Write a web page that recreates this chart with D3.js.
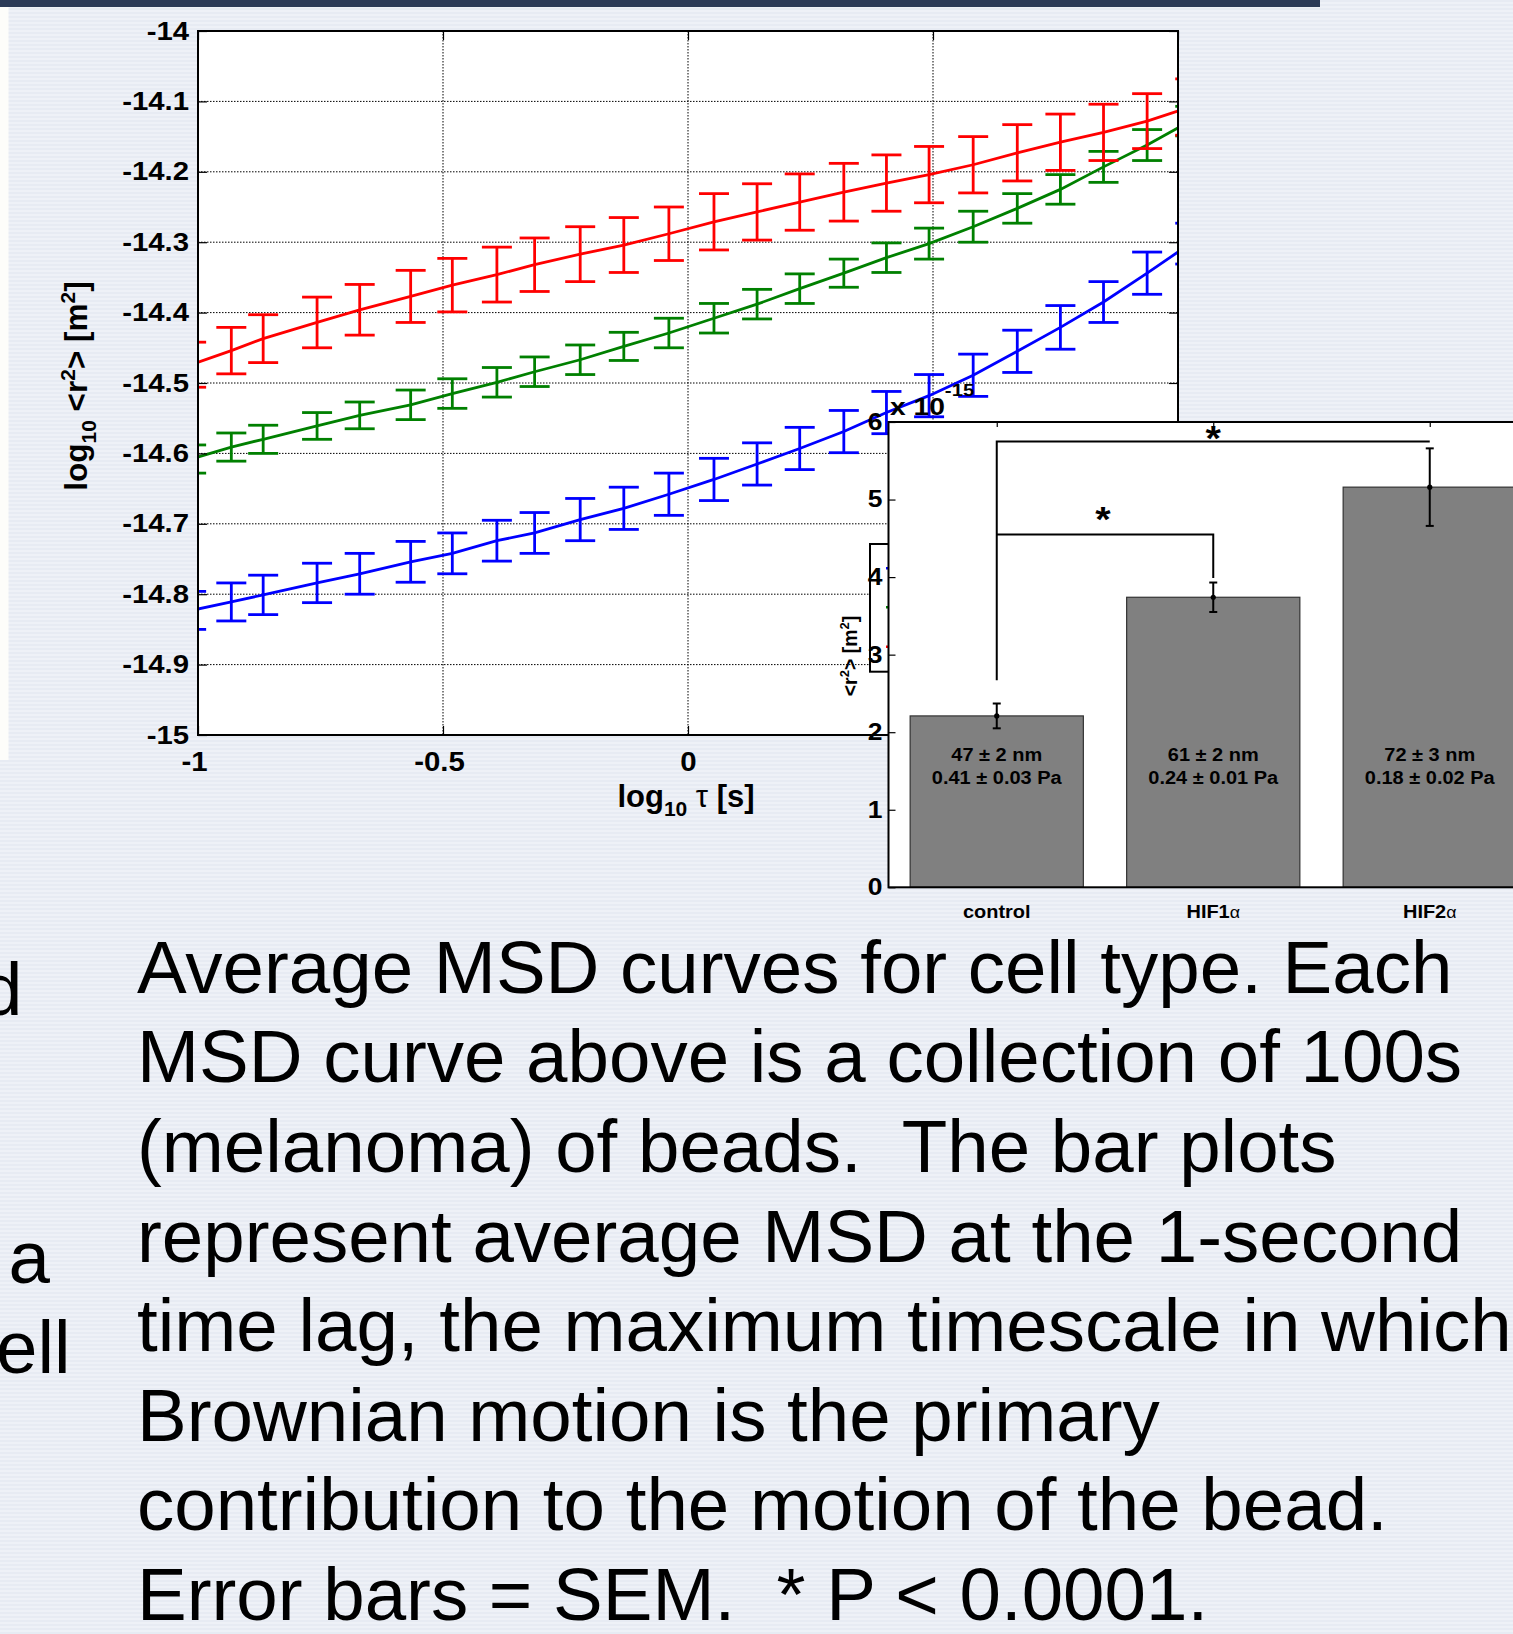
<!DOCTYPE html>
<html>
<head>
<meta charset="utf-8">
<script src="https://cdn.jsdelivr.net/npm/d3@7"></script>
<style>
body{margin:0;background:#eaeef5;}
svg{display:block;}
text{font-family:"Liberation Sans",Arial,Helvetica,sans-serif;fill:#000;}
</style>
</head>
<body>
<script>
// log10 of the time lag for every MSD point (shared by all three curves)
var tauLog = [-1.014,-0.932,-0.867,-0.757,-0.670,-0.566,-0.481,-0.390,-0.313,-0.220,-0.131,-0.039,
              0.053,0.141,0.228,0.318,0.405,0.492,0.582,0.672,0.760,0.848,0.937,1.025];

// log10 <r^2> and SEM for each curve
var redMean = [-14.474,-14.454,-14.437,-14.414,-14.396,-14.377,-14.361,-14.346,-14.332,-14.317,-14.304,-14.288,
               -14.271,-14.257,-14.243,-14.229,-14.216,-14.204,-14.190,-14.173,-14.158,-14.144,-14.128,-14.108];
var redErr = [0.032,0.033,0.034,0.036,0.036,0.037,0.038,0.039,0.038,0.039,0.039,0.038,
              0.040,0.040,0.040,0.041,0.040,0.040,0.040,0.040,0.040,0.040,0.039,0.040];

var greenMean = [-14.608,-14.591,-14.580,-14.561,-14.546,-14.531,-14.515,-14.499,-14.484,-14.467,-14.448,-14.429,
                 -14.408,-14.388,-14.366,-14.344,-14.322,-14.302,-14.278,-14.252,-14.225,-14.193,-14.162,-14.128];
var greenErr = [0.020,0.020,0.020,0.019,0.019,0.021,0.021,0.021,0.021,0.021,0.020,0.021,
                0.021,0.021,0.021,0.020,0.021,0.022,0.022,0.021,0.021,0.022,0.022,0.021];

var blueMean = [-14.823,-14.811,-14.801,-14.784,-14.771,-14.754,-14.742,-14.724,-14.713,-14.694,-14.678,-14.658,
                -14.637,-14.615,-14.593,-14.569,-14.542,-14.518,-14.489,-14.455,-14.421,-14.385,-14.344,-14.302];
var blueErr = [0.027,0.027,0.028,0.028,0.029,0.029,0.029,0.029,0.029,0.030,0.030,0.030,
               0.030,0.030,0.030,0.030,0.030,0.030,0.030,0.030,0.031,0.029,0.030,0.029];

var xTicks = [-1,-0.5,0,0.5,1];
var yTicks = [-15,-14.9,-14.8,-14.7,-14.6,-14.5,-14.4,-14.3,-14.2,-14.1,-14];

// inset: MSD at 1 s (x 10^-15 m^2)
var barCategories = ["control","HIF1","HIF2"];
var barValues = [2.21,3.74,5.16];
var barErr = [0.16,0.19,0.50];
var barSize = ["47 \u00b1 2 nm","61 \u00b1 2 nm","72 \u00b1 3 nm"];
var barModulus = ["0.41 \u00b1 0.03 Pa","0.24 \u00b1 0.01 Pa","0.18 \u00b1 0.02 Pa"];
var barTicks = [0,1,2,3,4,5,6];
// significance brackets: bars joined, bracket level, end of each drop, star position
var brackets = [
  {from:0, to:2, level:5.75, dropFrom:2.67, dropTo:5.75, starX:2.0, starY:5.86},
  {from:0, to:1, level:4.55, dropFrom:4.55, dropTo:3.99, starX:1.49, starY:4.81}
];

var caption = [
  "Average MSD curves for cell type. Each",
  "MSD curve above is a collection of 100s",
  "(melanoma) of beads.  The bar plots",
  "represent average MSD at the 1-second",
  "time lag, the maximum timescale in which",
  "Brownian motion is the primary",
  "contribution to the motion of the bead.",
  "Error bars = SEM.  * P < 0.0001."
];

var W = 1513, H = 1634;
var svg = d3.select("body").append("svg").attr("width", W).attr("height", H);
var defs = svg.append("defs");

// slide background with thin horizontal stripes
var pat = defs.append("pattern").attr("id","stripes").attr("patternUnits","userSpaceOnUse")
    .attr("width", 8).attr("height", 4);
pat.append("rect").attr("width", 8).attr("height", 4).attr("fill", "#e7ebf3");
pat.append("rect").attr("y", 2).attr("width", 8).attr("height", 2).attr("fill", "#eef1f7");
svg.append("rect").attr("width", W).attr("height", H).attr("fill", "url(#stripes)");
svg.append("rect").attr("width", 1320).attr("height", 7).attr("fill", "#2b3a57");
svg.append("rect").attr("y", 7).attr("width", 8.5).attr("height", 753).attr("fill", "#fdfdfa");

function sText(parent, x, y, str, size, sx, anchor, weight){
  return parent.append("text")
    .attr("transform", "translate(" + x + "," + y + ") scale(" + sx + ",1)")
    .attr("text-anchor", anchor)
    .style("font-size", size + "px")
    .style("font-weight", weight || "bold")
    .text(str);
}

// ---------------- main MSD plot ----------------
var x = d3.scaleLinear().domain([-1, 1]).range([198, 1178]);
var y = d3.scaleLinear().domain([-15, -14]).range([735, 31]);

var main = svg.append("g");
main.append("rect").attr("x", x(-1)).attr("y", y(-14))
    .attr("width", x(1) - x(-1)).attr("height", y(-15) - y(-14)).attr("fill", "#fff");

defs.append("clipPath").attr("id", "plotClip").append("rect")
    .attr("x", x(-1)).attr("y", y(-14)).attr("width", x(1) - x(-1)).attr("height", y(-15) - y(-14));

// dotted grid
main.selectAll(".gx").data(xTicks.slice(1, -1)).enter().append("line")
    .attr("x1", function(d){ return x(d); }).attr("x2", function(d){ return x(d); })
    .attr("y1", y(-14)).attr("y2", y(-15))
    .attr("stroke", "#000").attr("stroke-width", 1).attr("stroke-dasharray", "1.5,1.5");
main.selectAll(".gy").data(yTicks.slice(1, -1)).enter().append("line")
    .attr("y1", function(d){ return y(d); }).attr("y2", function(d){ return y(d); })
    .attr("x1", x(-1)).attr("x2", x(1))
    .attr("stroke", "#000").attr("stroke-width", 1).attr("stroke-dasharray", "1.5,1.5");

var series = [
  {color:"#0000ff", mean:blueMean, err:blueErr},
  {color:"#008000", mean:greenMean, err:greenErr},
  {color:"#ff0000", mean:redMean, err:redErr}
];
var capHalf = 15;
var plotG = main.append("g").attr("clip-path", "url(#plotClip)");
series.forEach(function(s){
  var pts = tauLog.map(function(t, i){ return {t:t, m:s.mean[i], e:s.err[i]}; });
  var g = plotG.append("g").attr("stroke", s.color).attr("stroke-width", 2.8).attr("fill", "none");
  g.append("path").attr("d", d3.line().x(function(d){ return x(d.t); }).y(function(d){ return y(d.m); })(pts));
  var eb = g.selectAll(".eb").data(pts).enter().append("g");
  eb.append("line")
    .attr("x1", function(d){ return x(d.t); }).attr("x2", function(d){ return x(d.t); })
    .attr("y1", function(d){ return y(d.m + d.e); }).attr("y2", function(d){ return y(d.m - d.e); });
  [1, -1].forEach(function(sg){
    eb.append("line")
      .attr("x1", function(d){ return x(d.t) - capHalf; }).attr("x2", function(d){ return x(d.t) + capHalf; })
      .attr("y1", function(d){ return y(d.m + sg * d.e); }).attr("y2", function(d){ return y(d.m + sg * d.e); });
  });
});

// box and inward ticks
main.append("rect").attr("x", x(-1)).attr("y", y(-14))
    .attr("width", x(1) - x(-1)).attr("height", y(-15) - y(-14))
    .attr("fill", "none").attr("stroke", "#000").attr("stroke-width", 2);

var yAxis = d3.axisLeft(y).tickValues(yTicks).tickSize(-9).tickSizeOuter(0).tickPadding(9)
    .tickFormat(function(d){ return d3.format(".1f")(d).replace(".0", "").replace("\u2212", "-"); });
var gy = main.append("g").attr("transform", "translate(" + x(-1) + ",0)").call(yAxis);
gy.select(".domain").remove();
gy.selectAll("line").attr("stroke", "#000").attr("stroke-width", 1.2);
gy.selectAll("text").attr("transform", "scale(1.15,1)").attr("x", -9 / 1.15)
    .style("font-size", "25.5px").style("font-weight", "bold").attr("font-family", null);

var gyR = main.append("g").attr("transform", "translate(" + x(1) + ",0)")
    .call(d3.axisRight(y).tickValues(yTicks).tickSize(-9).tickSizeOuter(0).tickFormat(""));
gyR.select(".domain").remove();
gyR.selectAll("line").attr("stroke", "#000").attr("stroke-width", 1.2);

var gxT = main.append("g").attr("transform", "translate(0," + y(-14) + ")")
    .call(d3.axisTop(x).tickValues(xTicks).tickSize(-9).tickSizeOuter(0).tickFormat(""));
gxT.select(".domain").remove();
gxT.selectAll("line").attr("stroke", "#000").attr("stroke-width", 1.2);

var xAxis = d3.axisBottom(x).tickValues(xTicks).tickSize(-9).tickSizeOuter(0).tickPadding(0)
    .tickFormat(function(d){ return String(d); });
var gx = main.append("g").attr("transform", "translate(0," + y(-15) + ")").call(xAxis);
gx.select(".domain").remove();
gx.selectAll("line").attr("stroke", "#000").attr("stroke-width", 1.2);
gx.selectAll("text")
    .attr("transform", function(d){ return "translate(" + (d < 0 ? -4 : 0) + ",0) scale(1.05,1)"; })
    .attr("y", 36).attr("dy", null)
    .style("font-size", "28px").style("font-weight", "bold").attr("font-family", null);

// axis labels
var xl = main.append("text").attr("x", 686).attr("y", 807).attr("text-anchor", "middle")
    .style("font-size", "31px").style("font-weight", "bold");
xl.append("tspan").text("log");
xl.append("tspan").attr("dy", 9).style("font-size", "21px").text("10");
xl.append("tspan").attr("dy", -9).text(" ");
xl.append("tspan").style("font-weight", "normal").text("\u03c4");
xl.append("tspan").text(" [s]");

var yl = main.append("text").attr("transform", "translate(86.7,386) rotate(-90)").attr("text-anchor", "middle")
    .style("font-size", "31.5px").style("font-weight", "bold");
yl.append("tspan").text("log");
yl.append("tspan").attr("dy", 9).style("font-size", "21px").text("10");
yl.append("tspan").attr("dy", -9).text(" <r");
yl.append("tspan").attr("dy", -12).style("font-size", "21px").text("2");
yl.append("tspan").attr("dy", 12).text("> [m");
yl.append("tspan").attr("dy", -12).style("font-size", "21px").text("2");
yl.append("tspan").attr("dy", 12).text("]");

// legend box, mostly hidden behind the inset
var leg = svg.append("g");
leg.append("rect").attr("x", 870).attr("y", 544).attr("width", 60).attr("height", 127.7)
    .attr("fill", "#fff").attr("stroke", "#000").attr("stroke-width", 2);
[["#0000ff", 568.3], ["#008000", 607.3], ["#ff0000", 646.7]].forEach(function(l){
  leg.append("line").attr("x1", 886).attr("x2", 925).attr("y1", l[1]).attr("y2", l[1])
     .attr("stroke", l[0]).attr("stroke-width", 2.5);
});

// ---------------- inset bar chart ----------------
var bx = d3.scaleLinear().domain([0.5, 3.5]).range([888.5, 1538]);
var by = d3.scaleLinear().domain([0, 6]).range([887.3, 422]);
var inset = svg.append("g");
inset.append("rect").attr("x", bx(0.5)).attr("y", by(6))
    .attr("width", bx(3.5) - bx(0.5)).attr("height", by(0) - by(6)).attr("fill", "#fff");

inset.selectAll(".bar").data(barValues).enter().append("rect")
    .attr("x", function(d, i){ return bx(i + 1 - 0.4); })
    .attr("width", bx(0.8) - bx(0))
    .attr("y", function(d){ return by(d); })
    .attr("height", function(d){ return by(0) - by(d); })
    .attr("fill", "#808080").attr("stroke", "#333").attr("stroke-width", 1.2);

var ebG = inset.append("g").attr("stroke", "#000").attr("stroke-width", 2);
barValues.forEach(function(v, i){
  var cx = bx(i + 1), e = barErr[i];
  ebG.append("line").attr("x1", cx).attr("x2", cx).attr("y1", by(v + e)).attr("y2", by(v - e));
  [v + e, v - e].forEach(function(c){
    ebG.append("line").attr("x1", cx - 4).attr("x2", cx + 4).attr("y1", by(c)).attr("y2", by(c));
  });
  inset.append("circle").attr("cx", cx).attr("cy", by(v)).attr("r", 2.6).attr("fill", "#000");
  sText(inset, cx, 760.7, barSize[i], 18.5, 1.08, "middle");
  sText(inset, cx, 784.3, barModulus[i], 18.5, 1.08, "middle");
  var cl = sText(inset, cx, 918.3, barCategories[i], 19, 1.05, "middle");
  if (i > 0) cl.append("tspan").style("font-weight", "normal").style("font-size", "17px").text("\u03b1");
});

var brG = inset.append("g").attr("stroke", "#000").attr("stroke-width", 2).attr("fill", "none");
brackets.forEach(function(b){
  var x0 = bx(b.from + 1), x1 = bx(b.to + 1);
  brG.append("path").attr("d", "M" + x0 + "," + by(b.dropFrom) + "V" + by(b.level) + "H" + x1 + "V" + by(b.dropTo));
  // asterisk glyph centre sits roughly half an em above the baseline
  sText(inset, bx(b.starX), by(b.starY) + 17, "*", 36, 1.1, "middle");
});

inset.append("rect").attr("x", bx(0.5)).attr("y", by(6))
    .attr("width", bx(3.5) - bx(0.5)).attr("height", by(0) - by(6))
    .attr("fill", "none").attr("stroke", "#000").attr("stroke-width", 2);

var gby = inset.append("g").attr("transform", "translate(" + bx(0.5) + ",0)")
    .call(d3.axisLeft(by).tickValues(barTicks).tickSize(-7).tickSizeOuter(0).tickPadding(6).tickFormat(d3.format("d")));
gby.select(".domain").remove();
gby.selectAll("line").attr("stroke", "#000").attr("stroke-width", 1.2);
gby.selectAll("text").attr("transform", "scale(1.15,1)").attr("x", -6 / 1.15)
    .style("font-size", "23px").style("font-weight", "bold").attr("font-family", null);

var gbt = inset.append("g").attr("transform", "translate(0," + by(6) + ")")
    .call(d3.axisTop(bx).tickValues([1, 2, 3]).tickSize(-5).tickSizeOuter(0).tickFormat(""));
gbt.select(".domain").remove();
gbt.selectAll("line").attr("stroke", "#000").attr("stroke-width", 1.2);

var mult = inset.append("text").attr("transform", "translate(890,415) scale(1.2,1)")
    .style("font-size", "23.5px").style("font-weight", "bold");
mult.append("tspan").text("x 10");
mult.append("tspan").attr("dy", -19).style("font-size", "17px").text("-15");

var byl = inset.append("text").attr("transform", "translate(857,656) rotate(-90)").attr("text-anchor", "middle")
    .style("font-size", "19.5px").style("font-weight", "bold");
byl.append("tspan").text("<r");
byl.append("tspan").attr("dy", -8).style("font-size", "13px").text("2");
byl.append("tspan").attr("dy", 8).text("> [m");
byl.append("tspan").attr("dy", -8).style("font-size", "13px").text("2");
byl.append("tspan").attr("dy", 8).text("]");

// ---------------- caption ----------------
var capG = svg.append("g").style("font-size", "74.5px");
capG.selectAll(".cap").data(caption).enter().append("text")
    .attr("x", 137).attr("y", function(d, i){ return 992.7 + i * 89.6; })
    .attr("xml:space", "preserve").style("white-space", "pre")
    .text(function(d){ return d; });

// pieces of the neighbouring text box on the left edge
var side = [{s:"d", x:-19, y:1014.7}, {s:"a", x:8.5, y:1283}, {s:"ell", x:-4, y:1372.7}];
capG.selectAll(".side").data(side).enter().append("text")
    .attr("x", function(d){ return d.x; }).attr("y", function(d){ return d.y; })
    .text(function(d){ return d.s; });
</script>
</body>
</html>
